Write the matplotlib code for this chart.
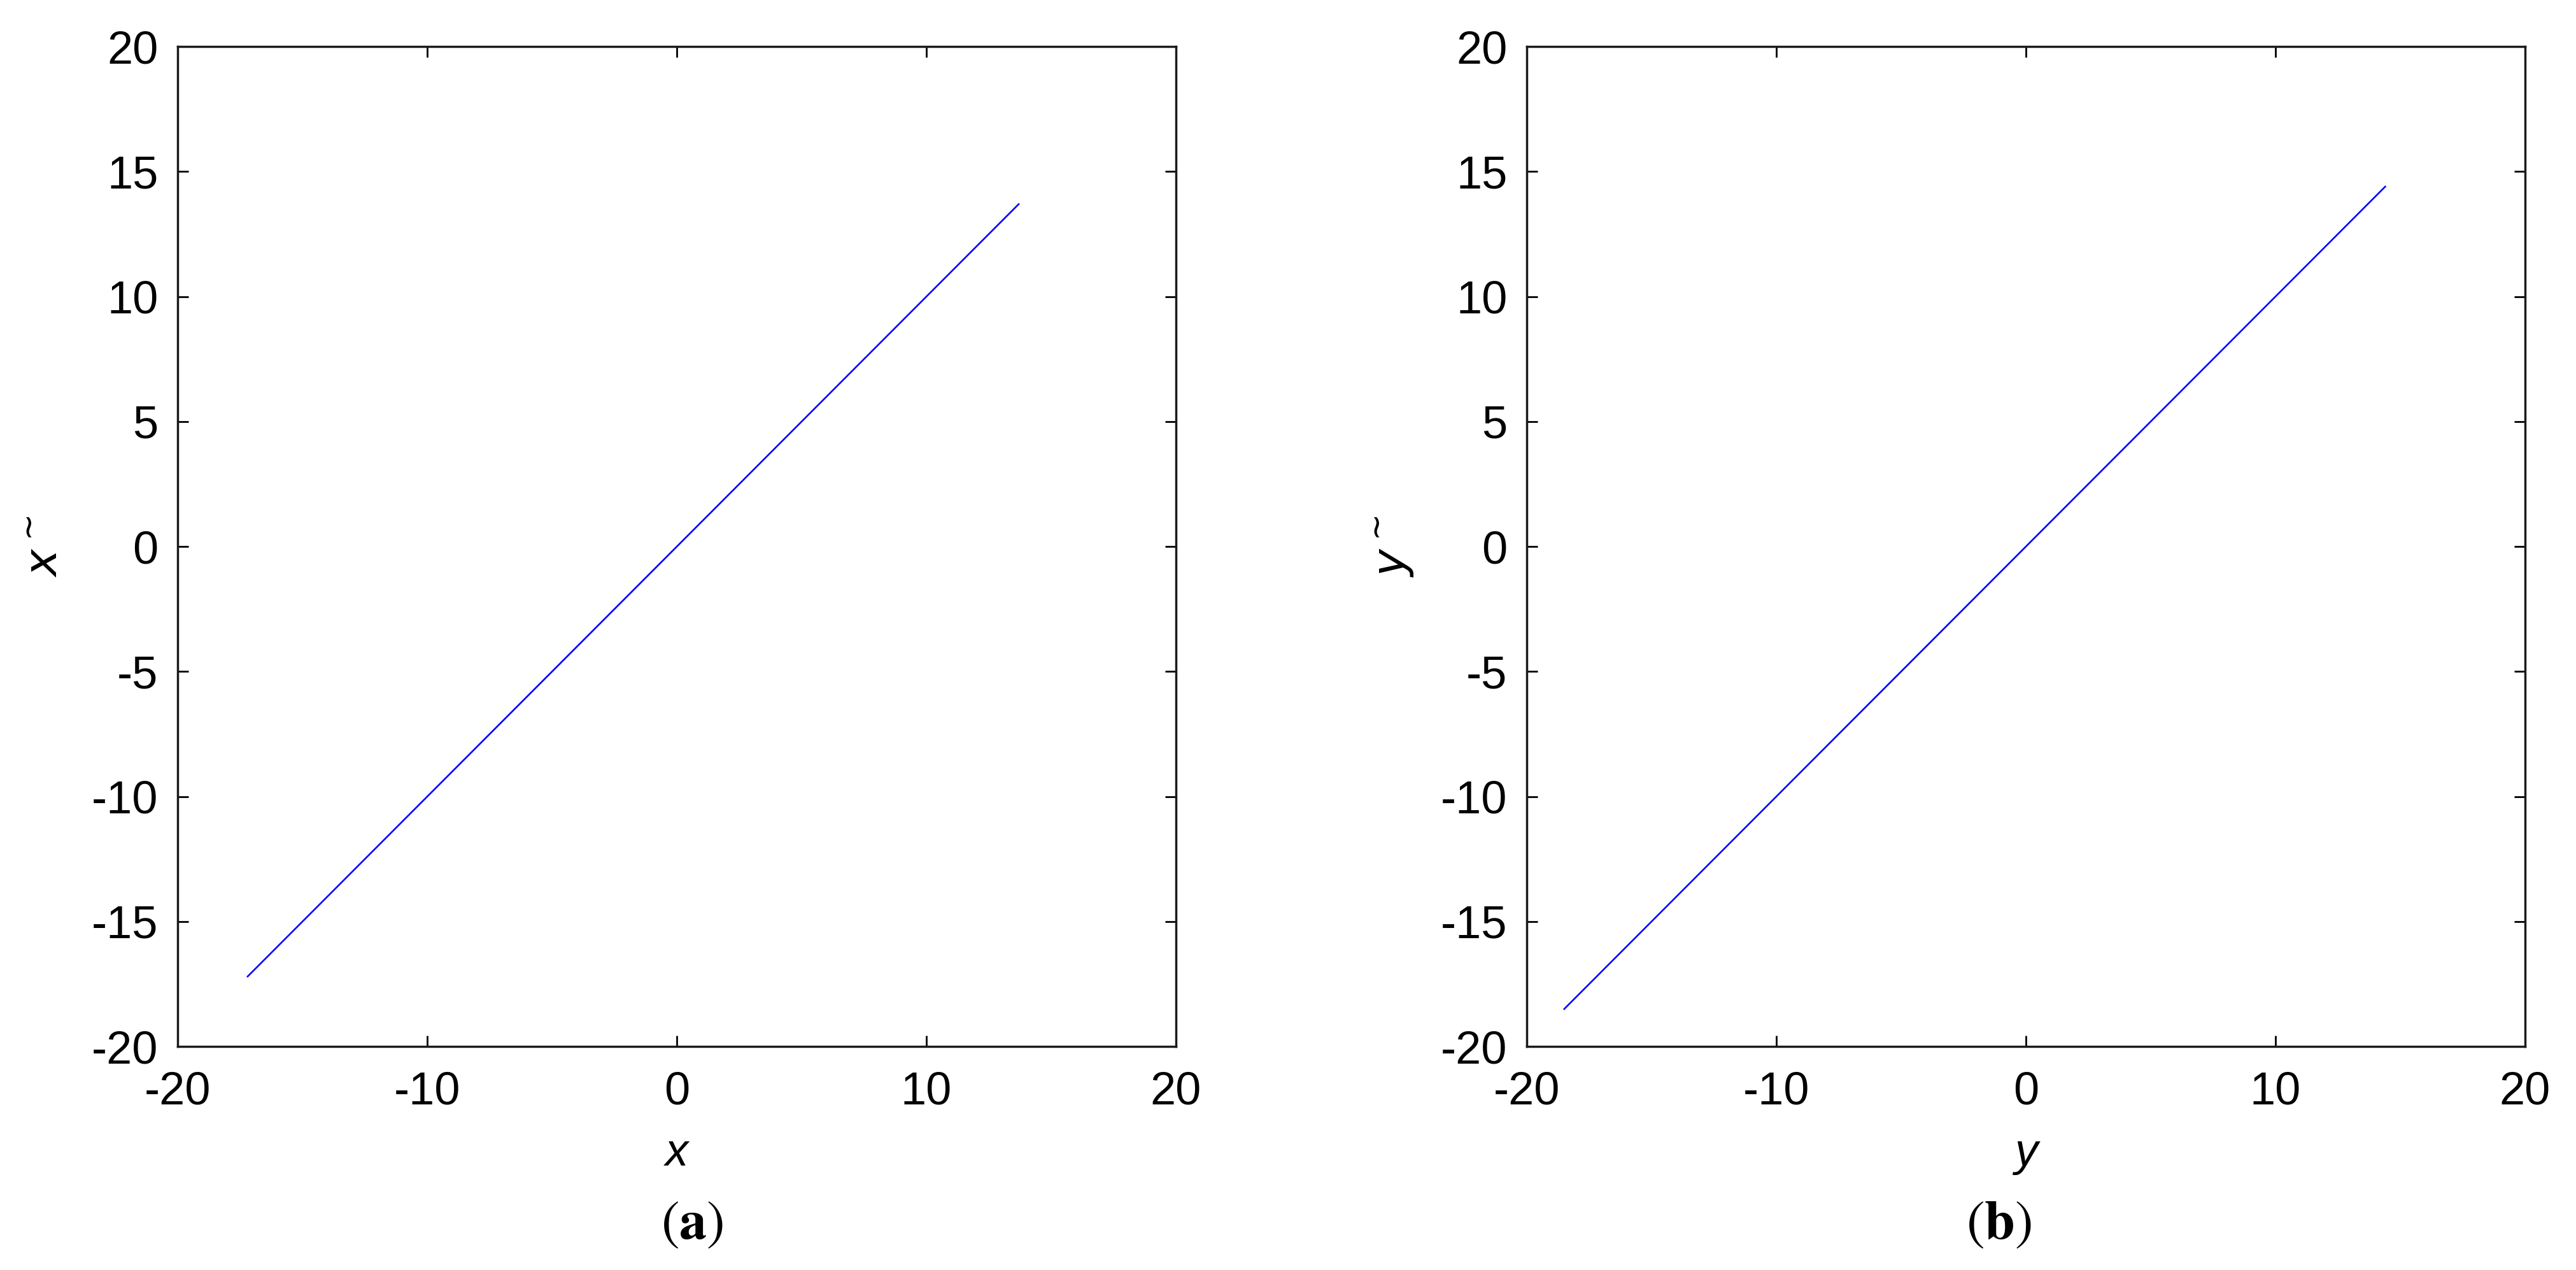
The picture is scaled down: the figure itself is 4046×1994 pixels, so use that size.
import matplotlib
matplotlib.use("Agg")
import matplotlib.pyplot as plt

# data (line end points)
x_a = [-17.2, 13.7]
xt_a = [-17.2, 13.7]
y_b = [-18.5, 14.4]
yt_b = [-18.5, 14.4]

ticks_x = [-20, -10, 0, 10, 20]
ticks_y = [-20, -15, -10, -5, 0, 5, 10, 15, 20]

sans = ['Liberation Sans Narrow', 'Liberation Sans', 'DejaVu Sans']
plt.rcParams['font.family'] = sans
plt.rcParams['axes.unicode_minus'] = False
plt.rcParams['mathtext.fontset'] = 'custom'
plt.rcParams['mathtext.it'] = 'Liberation Sans Narrow:italic'
plt.rcParams['mathtext.rm'] = 'Liberation Sans Narrow'

fig = plt.figure(figsize=(40.46, 19.94), dpi=100)

panels = [
    ([0.069, 0.176, 0.3875, 0.7873], x_a, xt_a, 'x', r'$x^{\sim}$', r'$(\mathbf{a})$', 0.2687),
    ([0.5927, 0.176, 0.3875, 0.7873], y_b, yt_b, 'y', r'$y^{\sim}$', r'$(\mathbf{b})$', 0.776),
]

for pos, xs, ys, xl, yl, cap, cx in panels:
    ax = fig.add_axes(pos)
    ax.plot(xs, ys, color='#0000ff', lw=1.9)
    ax.set_xlim(-20, 20)
    ax.set_ylim(-20, 20)
    ax.set_xticks(ticks_x)
    ax.set_yticks(ticks_y)
    ax.tick_params(direction='in', length=12, width=2, top=True, right=True,
                   labelsize=52, colors='black')
    ax.tick_params(axis='x', pad=28)
    ax.tick_params(axis='y', pad=22)
    for s in ax.spines.values():
        s.set_linewidth(2.5)
        s.set_color('#1a1a1a')
    ax.set_xlabel(xl, fontsize=52, fontstyle='italic', labelpad=20)
    ax.set_ylabel(yl, fontsize=52, labelpad=28)
    fig.text(cx, 0.036, cap, fontsize=62, ha='center', va='center',
             math_fontfamily='stix')

fig.savefig('out.png', dpi=100)
